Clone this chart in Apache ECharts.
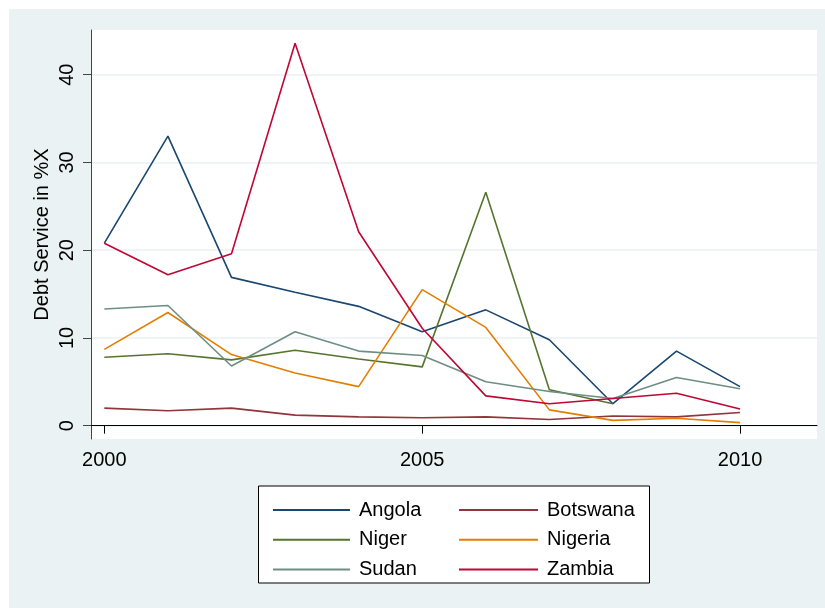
<!DOCTYPE html>
<html><head><meta charset="utf-8">
<script src="https://cdn.jsdelivr.net/npm/echarts@6/dist/echarts.min.js"></script>
<style>html,body{margin:0;padding:0;background:#fff}#c{width:825px;height:608px}</style>
</head><body><div id="c"></div>
<script>
const years = [2000, 2001, 2002, 2003, 2004, 2005, 2006, 2007, 2008, 2009, 2010];
const angola   = [20.8, 33.0, 16.9, 15.2, 13.6, 10.7, 13.2, 9.8, 2.5, 8.5, 4.45];
const botswana = [2.0, 1.7, 2.0, 1.2, 1.0, 0.9, 1.0, 0.7, 1.1, 1.0, 1.5];
const niger    = [7.8, 8.2, 7.5, 8.6, 7.6, 6.7, 26.6, 4.1, 2.5, null, null];
const nigeria  = [8.7, 12.9, 8.1, 6.0, 4.45, 15.5, 11.2, 1.8, 0.6, 0.85, 0.35];
const sudan    = [13.3, 13.7, 6.8, 10.7, 8.5, 8.0, 5.0, 3.9, 3.1, 5.5, 4.2];
const zambia   = [20.8, 17.2, 19.6, 43.6, 22.1, 11.1, 3.4, 2.5, 3.1, 3.7, 1.9];
const xTicks = [2000, 2005, 2010];
const yTicks = [0, 10, 20, 30, 40];
const yTitle = 'Debt Service in %X';

const seriesDefs = [
  ['Angola', angola, '#1a476f'],
  ['Botswana', botswana, '#90353b'],
  ['Niger', niger, '#55752f'],
  ['Nigeria', nigeria, '#e37e00'],
  ['Sudan', sudan, '#6e8e84'],
  ['Zambia', zambia, '#c10534']
];

const FONT = '"Liberation Sans", Arial, sans-serif';
const chart = echarts.init(document.getElementById('c'));
const legendText = {fontSize: 20, lineHeight: 20, color: '#000', fontFamily: FONT, padding: [0, 0, 0, 4]};
chart.setOption({
  animation: false,
  graphic: [
    {type: 'rect', z: -100, shape: {x: 9, y: 9, width: 816, height: 599}, style: {fill: '#EAF2F3'}},
    {type: 'rect', z: -50, shape: {x: 258.5, y: 486, width: 391, height: 97}, style: {fill: '#fff', stroke: '#000', lineWidth: 1}}
  ],
  grid: {left: 91, top: 30, right: 8, bottom: 169, show: true, backgroundColor: '#fff', borderWidth: 0},
  xAxis: {
    type: 'value', min: 1999.79, max: 2011.21,
    axisLine: {show: true, lineStyle: {color: '#000', width: 1}},
    axisTick: {show: true, length: 8, customValues: xTicks, lineStyle: {color: '#000'}},
    axisLabel: {customValues: xTicks, fontSize: 20, color: '#000', fontFamily: FONT, margin: 11,
                formatter: v => String(v)},
    splitLine: {show: false}
  },
  yAxis: {
    type: 'value', min: -1.52, max: 45.1,
    name: yTitle, nameLocation: 'middle', nameRotate: 90, nameGap: 39, nameMoveOverlap: false,
    nameTextStyle: {fontSize: 20, color: '#000', fontFamily: FONT},
    axisLine: {show: true, lineStyle: {color: '#444', width: 1}},
    axisTick: {show: true, length: 8, customValues: yTicks, lineStyle: {color: '#444'}},
    axisLabel: {customValues: yTicks, rotate: 90, fontSize: 20, color: '#000', fontFamily: FONT, margin: 14},
    splitLine: {show: true, lineStyle: {color: '#EAF2F3', width: 1.5}}
  },
  legend: [
    {data: ['Angola', 'Niger', 'Sudan'], orient: 'vertical', left: 268, top: 495, itemWidth: 77, itemHeight: 2,
     icon: 'rect', itemGap: 9.7, textStyle: legendText},
    {data: ['Botswana', 'Nigeria', 'Zambia'], orient: 'vertical', left: 454, top: 495, itemWidth: 79, itemHeight: 2,
     icon: 'rect', itemGap: 9.7, textStyle: legendText}
  ],
  series: seriesDefs.map(([name, vals, color]) => ({
    name: name, type: 'line', symbol: 'none', color: color,
    lineStyle: {width: 1.6, color: color},
    data: years.map((y, i) => [y, vals[i]]).filter(p => p[1] !== null)
  }))
});
</script>
</body></html>
